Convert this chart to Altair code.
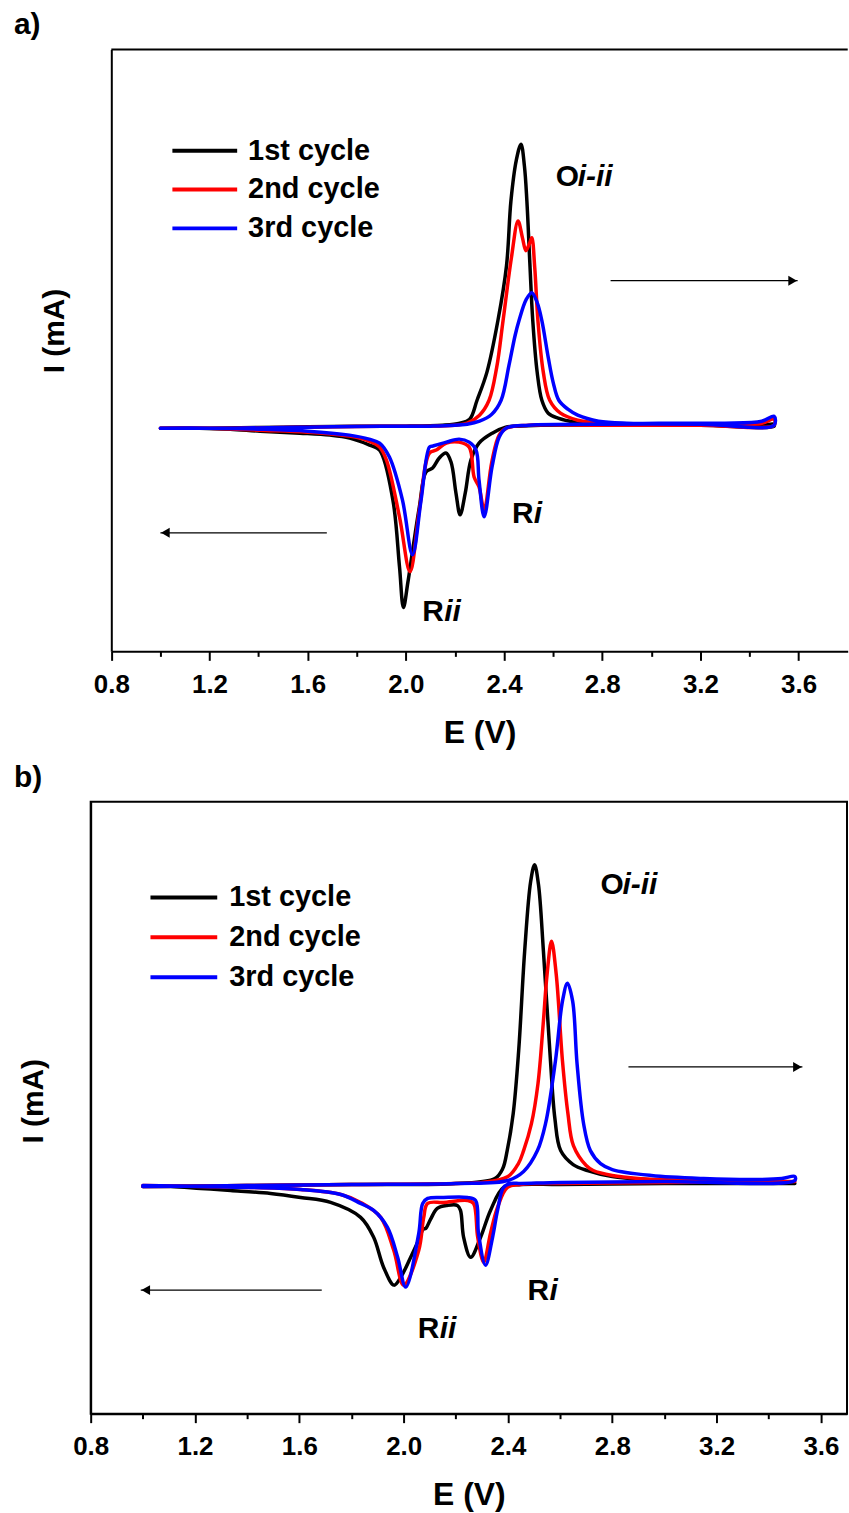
import altair as alt
import pandas as pd

CYCLES = ["1st cycle", "2nd cycle", "3rd cycle"]
COLORS = ["#000000", "#ff0000", "#0000ff"]
MAJOR_TICKS = [0.8, 1.2, 1.6, 2.0, 2.4, 2.8, 3.2, 3.6]
MINOR_TICKS = [1.0, 1.4, 1.8, 2.2, 2.6, 3.0, 3.4]

# ---------------- panel a ----------------
a1_ox_E = [1.00, 1.20, 1.50, 1.80, 2.00, 2.15, 2.22, 2.26, 2.29, 2.33, 2.375, 2.41, 2.428, 2.45, 2.469, 2.483, 2.493, 2.505, 2.517, 2.535, 2.554, 2.58, 2.62, 2.69, 2.80, 3.00, 3.30, 3.45, 3.50]
a1_ox_I = [-0.01, -0.01, 0.00, 0.01, 0.01, 0.02, 0.04, 0.08, 0.27, 0.55, 1.07, 1.62, 2.27, 2.68, 2.84, 2.62, 2.27, 1.65, 1.07, 0.55, 0.27, 0.14, 0.09, 0.05, 0.03, 0.02, 0.02, 0.02, 0.03]
a1_rd_E = [3.50, 3.20, 2.80, 2.55, 2.45, 2.407, 2.352, 2.298, 2.265, 2.242, 2.221, 2.204, 2.184, 2.163, 2.136, 2.109, 2.082, 2.055, 2.028, 2.008, 1.990, 1.974, 1.947, 1.893, 1.852, 1.771, 1.690, 1.568, 1.406, 1.285, 1.160, 1.00]
a1_rd_I = [0.01, 0.02, 0.02, 0.02, 0.01, 0.00, -0.06, -0.16, -0.33, -0.66, -0.88, -0.66, -0.35, -0.26, -0.31, -0.41, -0.45, -0.80, -1.23, -1.56, -1.81, -1.40, -0.73, -0.23, -0.18, -0.11, -0.08, -0.06, -0.04, -0.02, -0.01, -0.01]

a2_ox_E = [1.00, 1.30, 1.60, 1.90, 2.10, 2.20, 2.25, 2.30, 2.339, 2.37, 2.396, 2.43, 2.457, 2.475, 2.489, 2.503, 2.513, 2.525, 2.538, 2.56, 2.586, 2.63, 2.70, 2.80, 3.00, 3.30, 3.45, 3.50]
a2_ox_I = [-0.01, -0.01, 0.00, 0.01, 0.01, 0.02, 0.04, 0.12, 0.27, 0.60, 1.07, 1.70, 2.07, 1.90, 1.77, 1.84, 1.90, 1.60, 1.07, 0.55, 0.27, 0.14, 0.07, 0.04, 0.03, 0.03, 0.04, 0.08]
a2_rd_E = [3.50, 3.20, 2.80, 2.50, 2.41, 2.38, 2.35, 2.319, 2.298, 2.278, 2.258, 2.217, 2.165, 2.124, 2.096, 2.055, 2.017, 1.974, 1.921, 1.893, 1.85, 1.77, 1.60, 1.40, 1.20, 1.00]
a2_rd_I = [0.02, 0.02, 0.02, 0.02, -0.01, -0.08, -0.35, -0.83, -0.60, -0.50, -0.20, -0.15, -0.16, -0.23, -0.26, -0.83, -1.45, -0.90, -0.33, -0.20, -0.14, -0.09, -0.05, -0.03, -0.01, -0.01]

a3_ox_E = [1.00, 1.30, 1.60, 1.90, 2.10, 2.25, 2.30, 2.35, 2.388, 2.42, 2.445, 2.461, 2.49, 2.513, 2.535, 2.554, 2.58, 2.60, 2.623, 2.66, 2.70, 2.785, 2.90, 3.10, 3.30, 3.45, 3.50]
a3_ox_I = [-0.01, -0.01, 0.00, 0.01, 0.01, 0.03, 0.06, 0.13, 0.27, 0.62, 0.92, 1.07, 1.28, 1.35, 1.25, 1.07, 0.70, 0.45, 0.27, 0.18, 0.12, 0.06, 0.04, 0.04, 0.04, 0.06, 0.11]
a3_rd_E = [3.50, 3.20, 2.80, 2.50, 2.408, 2.38, 2.351, 2.319, 2.298, 2.286, 2.258, 2.217, 2.165, 2.109, 2.096, 2.062, 2.027, 1.986, 1.933, 1.893, 1.85, 1.77, 1.60, 1.40, 1.20, 1.00]
a3_rd_I = [0.02, 0.03, 0.03, 0.02, -0.01, -0.10, -0.40, -0.90, -0.53, -0.23, -0.15, -0.12, -0.15, -0.19, -0.20, -0.73, -1.28, -0.73, -0.30, -0.16, -0.12, -0.08, -0.04, -0.02, -0.01, -0.01]

a_lab_E = [2.611, 2.432, 2.067]
a_lab_I = [2.42, -0.96, -1.95]
a_arrow_E0 = [2.834, 1.678]
a_arrow_E1 = [3.596, 1.000]
a_arrow_I = [1.47, -1.06]

# ---------------- panel b ----------------
b1_ox_E = [1.00, 1.40, 1.80, 2.20, 2.35, 2.38, 2.397, 2.42, 2.441, 2.464, 2.487, 2.502, 2.517, 2.536, 2.563, 2.58, 2.602, 2.65, 2.705, 2.80, 3.00, 3.30, 3.50]
b1_ox_I = [-0.03, -0.02, -0.01, 0.00, 0.05, 0.15, 0.33, 0.70, 1.33, 2.33, 3.03, 3.20, 3.00, 2.33, 1.23, 0.65, 0.33, 0.19, 0.13, 0.07, 0.03, 0.01, 0.00]
b1_rd_E = [3.50, 3.00, 2.60, 2.45, 2.383, 2.333, 2.295, 2.257, 2.230, 2.218, 2.206, 2.167, 2.129, 2.103, 2.085, 2.075, 2.052, 2.027, 1.989, 1.963, 1.923, 1.885, 1.835, 1.720, 1.605, 1.490, 1.337, 1.222, 1.107, 1.00]
b1_rd_I = [0.00, 0.00, -0.01, -0.01, -0.04, -0.27, -0.54, -0.74, -0.54, -0.27, -0.22, -0.22, -0.25, -0.36, -0.45, -0.46, -0.60, -0.74, -0.94, -1.02, -0.84, -0.54, -0.34, -0.19, -0.14, -0.10, -0.07, -0.05, -0.03, -0.03]

b2_ox_E = [1.00, 1.40, 1.80, 2.20, 2.30, 2.40, 2.44, 2.46, 2.49, 2.515, 2.535, 2.55, 2.567, 2.585, 2.609, 2.63, 2.651, 2.70, 2.727, 2.80, 2.90, 3.10, 3.30, 3.50]
b2_ox_I = [-0.03, -0.02, -0.01, 0.00, 0.01, 0.07, 0.20, 0.33, 0.60, 1.00, 1.60, 2.10, 2.43, 2.10, 1.23, 0.70, 0.38, 0.18, 0.13, 0.08, 0.05, 0.03, 0.02, 0.02]
b2_rd_E = [3.50, 3.00, 2.60, 2.45, 2.398, 2.360, 2.333, 2.307, 2.284, 2.268, 2.245, 2.153, 2.092, 2.077, 2.058, 2.000, 1.962, 1.912, 1.835, 1.759, 1.605, 1.414, 1.222, 1.00]
b2_rd_I = [0.02, 0.01, 0.00, -0.01, -0.04, -0.24, -0.50, -0.79, -0.54, -0.20, -0.17, -0.19, -0.20, -0.34, -0.67, -1.02, -0.67, -0.34, -0.19, -0.11, -0.06, -0.04, -0.03, -0.02]

b3_ox_E = [1.00, 1.40, 1.80, 2.20, 2.40, 2.46, 2.513, 2.544, 2.582, 2.609, 2.628, 2.648, 2.665, 2.69, 2.716, 2.755, 2.80, 2.95, 3.15, 3.35, 3.45, 3.50]
b3_ox_I = [-0.03, -0.02, -0.01, 0.00, 0.03, 0.12, 0.33, 0.60, 1.23, 1.83, 2.01, 1.83, 1.20, 0.60, 0.33, 0.20, 0.14, 0.08, 0.05, 0.04, 0.05, 0.07]
b3_rd_E = [3.50, 3.00, 2.60, 2.45, 2.410, 2.383, 2.360, 2.341, 2.314, 2.287, 2.276, 2.245, 2.153, 2.092, 2.073, 2.058, 2.008, 1.977, 1.938, 1.885, 1.835, 1.759, 1.605, 1.414, 1.222, 1.00]
b3_rd_I = [0.03, 0.02, 0.01, 0.00, 0.00, -0.04, -0.27, -0.54, -0.82, -0.50, -0.17, -0.14, -0.14, -0.15, -0.20, -0.50, -1.04, -0.74, -0.44, -0.27, -0.20, -0.11, -0.06, -0.04, -0.03, -0.02]

b_lab_E = [2.755, 2.475, 2.054]
b_lab_I = [2.91, -1.17, -1.55]
b_arrow_E0 = [2.862, 1.686]
b_arrow_E1 = [3.529, 0.992]
b_arrow_I = [1.17, -1.07]

LAB_UP = ["O", "R", "R"]
LAB_IT = ["i-ii", "i", "ii"]

FONT = "Liberation Sans, Arial, sans-serif"
NARROW = "Liberation Sans Narrow, Arial Narrow, Liberation Sans, sans-serif"


def curves_df(spec):
    rows = []
    for cyc, (oxE, oxI, rdE, rdI) in zip(CYCLES, spec):
        for k, (e, i) in enumerate(zip(oxE + rdE, oxI + rdI)):
            rows.append({"E": e, "I": i, "cycle": cyc, "k": k})
    return pd.DataFrame(rows)


def panel(letter, df, labE, labI, aE0, aE1, aI, xdom, xrange, ydom, h,
          yoff, title_y, legx, legy, clip, symlen, laboff, open_right):
    xs = alt.Scale(domain=xdom, range=xrange, nice=False, zero=False)
    ys = alt.Scale(domain=ydom, nice=False, zero=False)
    major = alt.Axis(values=MAJOR_TICKS, format=".1f", orient="bottom",
                     tickSize=9, tickWidth=2, tickColor="black",
                     labelFont=NARROW, labelFontSize=26, labelFontWeight="bold",
                     labelColor="black", labelPadding=11, labelFlush=False,
                     labelOverlap=False, domainColor="black", domainWidth=2,
                     grid=False, title="E (V)", titleFont=NARROW,
                     titleFontSize=32, titleFontWeight="bold",
                     titleColor="black", titlePadding=20)
    minor = alt.Axis(values=MINOR_TICKS, orient="bottom", tickSize=5,
                     tickWidth=2, tickColor="black", labels=False,
                     domain=False, grid=False, title=None)
    yax = alt.Axis(ticks=False, labels=False, grid=False, domainColor="black",
                   domainWidth=2, offset=yoff, title="I (mA)", titleFont=FONT,
                   titleFontSize=30, titleFontWeight="bold", titleColor="black",
                   titlePadding=42, titleY=title_y)
    yenc = alt.Y("I:Q", scale=ys, axis=yax)
    color = alt.Color(
        "cycle:N",
        scale=alt.Scale(domain=CYCLES, range=COLORS),
        legend=alt.Legend(orient="none", legendX=legx, legendY=legy,
                          title=None, symbolType="stroke", symbolStrokeWidth=4,
                          symbolSize=symlen * symlen, labelFont=FONT,
                          labelFontSize=29, labelFontWeight="bold",
                          labelColor="black", labelOffset=laboff,
                          clipHeight=clip, rowPadding=2, padding=0),
    )
    lines = alt.Chart(df).mark_line(
        strokeWidth=3.5, interpolate="catmull-rom", strokeCap="round",
        strokeJoin="round").encode(
        x=alt.X("E:Q", scale=xs, axis=major),
        y=yenc,
        color=color,
        order="k:Q",
    )
    lab = pd.DataFrame({"E": labE, "I": labI, "up": LAB_UP, "it": LAB_IT})
    up = alt.Chart(lab).mark_text(
        font=FONT, fontSize=30, fontWeight="bold", align="left",
        baseline="alphabetic", color="black").encode(
        x=alt.X("E:Q", scale=xs, axis=minor),
        y=yenc,
        text="up:N",
    )
    it = alt.Chart(lab).mark_text(
        font=FONT, fontSize=30, fontWeight="bold", fontStyle="italic",
        align="left", baseline="alphabetic", dx=22, color="black").encode(
        x=alt.X("E:Q", scale=xs, axis=None),
        y=yenc,
        text="it:N",
    )
    arr = pd.DataFrame({"E0": aE0, "E1": aE1, "I": aI})
    shaft = alt.Chart(arr).mark_rule(color="black", strokeWidth=1.2).encode(
        x=alt.X("E0:Q", scale=xs, axis=None),
        x2="E1:Q",
        y=yenc,
    )
    head_r = alt.Chart(arr).transform_filter("datum.E1 > datum.E0").mark_point(
        shape="triangle-right", filled=True, size=100, color="black",
        opacity=1, xOffset=-5).encode(
        x=alt.X("E1:Q", scale=xs, axis=None),
        y=yenc,
    )
    head_l = alt.Chart(arr).transform_filter("datum.E1 < datum.E0").mark_point(
        shape="triangle-left", filled=True, size=100, color="black",
        opacity=1, xOffset=5).encode(
        x=alt.X("E1:Q", scale=xs, axis=None),
        y=yenc,
    )
    layers = [lines, shaft, head_r, head_l, up, it]
    if open_right:
        frame = pd.DataFrame({"E0": [xdom[0]], "E1": [xdom[1]]})
        top = alt.Chart(frame).mark_rule(color="black", strokeWidth=2).encode(
            x=alt.X("E0:Q", scale=xs, axis=None),
            x2="E1:Q",
            y=alt.value(0),
        )
        layers.append(top)
        view = alt.ViewBackground(strokeOpacity=0, fill="white")
    else:
        view = alt.ViewBackground(stroke="black", strokeWidth=2, fill="white")
    return alt.layer(*layers).resolve_axis(x="independent").properties(
        width=759, height=h, view=view,
        title=alt.TitleParams(letter, anchor="start", frame="group", dx=-77,
                              offset=9, font=NARROW, fontSize=30,
                              fontWeight="bold", color="black"),
    )


df_a = curves_df([(a1_ox_E, a1_ox_I, a1_rd_E, a1_rd_I),
                  (a2_ox_E, a2_ox_I, a2_rd_E, a2_rd_I),
                  (a3_ox_E, a3_ox_I, a3_rd_E, a3_rd_I)])
df_b = curves_df([(b1_ox_E, b1_ox_I, b1_rd_E, b1_rd_I),
                  (b2_ox_E, b2_ox_I, b2_rd_E, b2_rd_I),
                  (b3_ox_E, b3_ox_I, b3_rd_E, b3_rd_I)])

pa = panel("a)", df_a, a_lab_E, a_lab_I, a_arrow_E0, a_arrow_E1, a_arrow_I,
           [0.8, 3.8], [20.7, 759.7], [-2.25, 3.79], 604,
           -20.7, 282, 80, 83, 37, 65, 9, True)
pb = panel("b)", df_b, b_lab_E, b_lab_I, b_arrow_E0, b_arrow_E1, b_arrow_I,
           [0.8, 3.70], [0, 759], [-2.31, 3.83], 614,
           0, 300, 58, 77, 38, 67, 10, False)

chart = alt.vconcat(pa, pb, spacing=14).resolve_scale(
    x="independent", y="independent", color="independent"
).properties(
    padding={"left": 13, "top": 7, "right": 0, "bottom": 0},
    background="white",
)

chart.save("out.html", embed_options={"renderer": "svg", "actions": False})
